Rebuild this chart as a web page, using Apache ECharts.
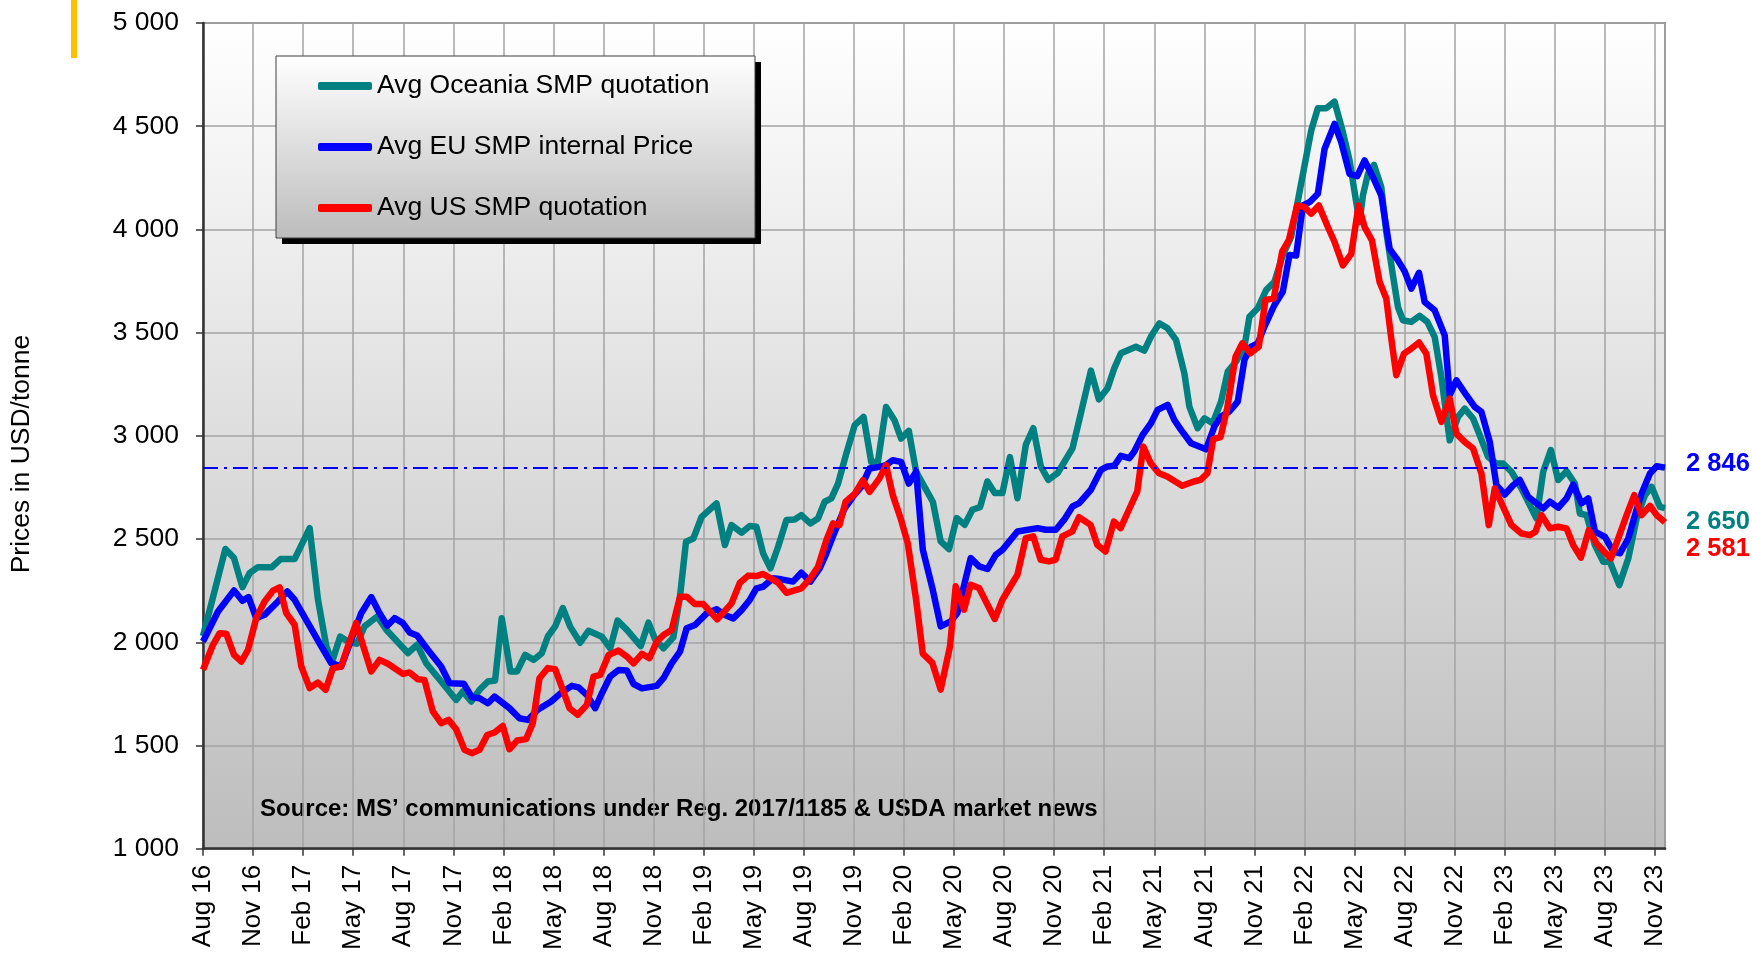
<!DOCTYPE html>
<html>
<head>
<meta charset="utf-8">
<script src="https://cdn.jsdelivr.net/npm/echarts@6/dist/echarts.min.js"></script>
<style>
  html, body { margin: 0; padding: 0; background: #fff; }
  #chart { width: 1752px; height: 953px; }
</style>
</head>
<body>
<div id="chart"></div>
<script>
// x = months since Aug 2016 (weekly quotes at the turning points)
const xLabels = ['Aug 16', 'Nov 16', 'Feb 17', 'May 17', 'Aug 17', 'Nov 17', 'Feb 18', 'May 18',
  'Aug 18', 'Nov 18', 'Feb 19', 'May 19', 'Aug 19', 'Nov 19', 'Feb 20', 'May 20', 'Aug 20',
  'Nov 20', 'Feb 21', 'May 21', 'Aug 21', 'Nov 21', 'Feb 22', 'May 22', 'Aug 22', 'Nov 22',
  'Feb 23', 'May 23', 'Aug 23', 'Nov 23']

const seriesNames = ['Avg Oceania SMP quotation', 'Avg EU SMP internal Price', 'Avg US SMP quotation']

const oceania = [
  [0, 2030], [1.34, 2452], [1.86, 2408], [2.36, 2267], [2.79, 2335], [3.29, 2364], [4.13, 2364],
  [4.65, 2403], [5.49, 2403], [6.39, 2553], [6.89, 2206], [7.39, 1980], [7.74, 1907], [8.22, 2028],
  [8.68, 2004], [9.22, 1993], [9.68, 2077], [10.44, 2125], [10.98, 2061], [12.28, 1948], [12.83, 1988],
  [13.37, 1899], [14.27, 1810], [15.17, 1721], [15.57, 1762], [16.07, 1713], [16.57, 1770], [17.07, 1810],
  [17.5, 1815], [17.9, 2117], [18.42, 1859], [18.82, 1859], [19.3, 1939], [19.82, 1915], [20.3, 1947],
  [20.66, 2028], [21.1, 2077], [21.56, 2166], [22.0, 2076], [22.6, 1998], [23.1, 2056], [23.9, 2027],
  [24.4, 1971], [24.84, 2105], [25.4, 2060], [26.23, 1982], [26.69, 2095], [27.09, 2015], [27.59, 1971],
  [28.18, 2024], [28.58, 2221], [28.94, 2487], [29.38, 2503], [29.88, 2608], [30.77, 2673], [31.27, 2471],
  [31.67, 2568], [32.27, 2531], [32.76, 2563], [33.16, 2560], [33.56, 2431], [34.0, 2358], [34.46, 2463],
  [34.96, 2592], [35.45, 2595], [35.85, 2616], [36.39, 2576], [36.85, 2600], [37.25, 2681], [37.65, 2697],
  [38.05, 2769], [38.55, 2915], [39.05, 3052], [39.58, 3092], [40.04, 2874], [40.44, 2874], [40.93, 3140],
  [41.43, 3076], [41.83, 2987], [42.29, 3024], [42.73, 2826], [43.23, 2753], [43.73, 2681], [44.2, 2489],
  [44.7, 2452], [45.16, 2602], [45.64, 2569], [46.1, 2642], [46.56, 2655], [47.0, 2779], [47.44, 2723],
  [47.9, 2723], [48.35, 2897], [48.8, 2698], [49.3, 2956], [49.75, 3037], [50.2, 2852], [50.65, 2787],
  [51.2, 2819], [52.1, 2940], [52.6, 3110], [53.2, 3316], [53.68, 3177], [54.2, 3231], [54.6, 3327],
  [55.0, 3400], [55.9, 3432], [56.4, 3413], [56.8, 3481], [57.3, 3545], [57.8, 3521], [58.3, 3465],
  [58.8, 3303], [59.1, 3142], [59.6, 3037], [60.0, 3085], [60.5, 3061], [61.0, 3166], [61.4, 3311],
  [61.9, 3360], [62.4, 3432], [62.7, 3577], [63.2, 3618], [63.7, 3706], [64.2, 3747], [64.7, 3876],
  [65.2, 3965], [65.7, 4181], [66.4, 4479], [66.8, 4587], [67.3, 4587], [67.8, 4619], [68.3, 4471],
  [68.7, 4334], [69.1, 4132], [69.3, 4035], [69.5, 4165], [69.8, 4269], [70.16, 4313], [70.6, 4205],
  [70.9, 3987], [71.3, 3777], [71.6, 3624], [71.9, 3560], [72.4, 3552], [72.9, 3581], [73.36, 3552],
  [73.8, 3479], [74.2, 3285], [74.5, 3100], [74.7, 2979], [75.2, 3092], [75.6, 3132], [76.1, 3084],
  [76.5, 3003], [77.0, 2898], [77.5, 2866], [77.9, 2866], [78.4, 2826], [79.0, 2745], [79.5, 2665],
  [79.9, 2600], [80.3, 2826], [80.76, 2931], [81.2, 2786], [81.7, 2829], [82.2, 2769], [82.5, 2624],
  [82.9, 2616], [83.4, 2471], [83.9, 2390], [84.3, 2390], [84.86, 2277], [85.4, 2406], [85.9, 2600],
  [86.4, 2713], [86.8, 2753], [87.3, 2656], [87.6, 2650]
]

const eu = [
  [0, 2004], [0.9, 2149], [1.86, 2251], [2.36, 2201], [2.73, 2219], [3.19, 2117], [3.69, 2133],
  [4.49, 2198], [5.05, 2246], [5.49, 2206], [6.29, 2093], [7.09, 1980], [7.68, 1899], [8.28, 1883],
  [8.88, 2012], [9.48, 2141], [10.08, 2219], [10.58, 2141], [11.04, 2080], [11.48, 2117], [11.98, 2093],
  [12.38, 2048], [12.83, 2033], [13.47, 1964], [14.27, 1883], [14.77, 1802], [15.63, 1799], [16.11, 1734],
  [16.57, 1729], [17.07, 1705], [17.47, 1737], [18.36, 1681], [18.96, 1632], [19.46, 1624], [20.06, 1673],
  [20.86, 1713], [21.46, 1755], [22.1, 1789], [22.5, 1782], [23.0, 1745], [23.5, 1681], [23.9, 1753],
  [24.4, 1834], [24.9, 1866], [25.4, 1863], [25.8, 1798], [26.3, 1777], [27.19, 1789], [27.59, 1826],
  [28.08, 1898], [28.58, 1955], [28.98, 2068], [29.48, 2084], [30.18, 2140], [30.77, 2160], [31.27, 2132],
  [31.77, 2116], [32.27, 2156], [32.76, 2205], [33.16, 2261], [33.56, 2269], [34.16, 2310], [34.66, 2305],
  [35.35, 2294], [35.85, 2337], [36.39, 2294], [36.95, 2358], [37.35, 2431], [37.85, 2535], [38.44, 2648],
  [38.94, 2705], [39.44, 2753], [39.94, 2842], [40.53, 2850], [40.93, 2858], [41.33, 2882], [41.83, 2874],
  [42.29, 2769], [42.73, 2826], [43.13, 2448], [43.73, 2253], [44.2, 2077], [44.8, 2101], [45.2, 2142],
  [46.0, 2408], [46.5, 2368], [47.0, 2355], [47.5, 2424], [47.9, 2448], [48.8, 2537], [50.0, 2553],
  [50.5, 2545], [51.1, 2545], [51.6, 2594], [52.1, 2658], [52.5, 2674], [53.2, 2739], [53.8, 2835],
  [54.2, 2852], [54.6, 2855], [55.0, 2903], [55.5, 2892], [55.8, 2924], [56.3, 3005], [56.8, 3061],
  [57.2, 3126], [57.8, 3150], [58.2, 3077], [58.6, 3029], [59.2, 2964], [60.1, 2935], [60.6, 3045],
  [61.0, 3094], [61.5, 3118], [62.0, 3166], [62.4, 3368], [62.8, 3432], [63.2, 3448], [63.6, 3529],
  [64.2, 3634], [64.7, 3698], [65.1, 3876], [65.5, 3874], [65.9, 4116], [66.3, 4132], [66.8, 4173],
  [67.2, 4390], [67.8, 4511], [68.2, 4423], [68.7, 4269], [69.16, 4258], [69.6, 4334], [70.1, 4253],
  [70.6, 4165], [71.1, 3906], [71.6, 3850], [72.0, 3797], [72.4, 3713], [72.86, 3790], [73.2, 3648],
  [73.8, 3608], [74.4, 3487], [74.7, 3197], [75.1, 3269], [75.7, 3197], [76.2, 3140], [76.6, 3116],
  [77.1, 2971], [77.5, 2761], [78.0, 2716], [78.5, 2761], [78.9, 2786], [79.4, 2705], [80.3, 2648],
  [80.7, 2681], [81.2, 2652], [81.7, 2697], [82.1, 2764], [82.6, 2673], [83.0, 2697], [83.4, 2536],
  [84.0, 2511], [84.5, 2439], [84.9, 2431], [85.4, 2503], [85.8, 2616], [86.2, 2721], [86.7, 2818],
  [87.1, 2853], [87.6, 2846]
]

const us = [
  [0, 1867], [0.6, 1988], [1.0, 2044], [1.4, 2041], [1.86, 1939], [2.3, 1907], [2.7, 1964], [3.19, 2117],
  [3.69, 2198], [4.19, 2250], [4.59, 2266], [4.99, 2141], [5.49, 2085], [5.89, 1883], [6.39, 1778],
  [6.89, 1805], [7.35, 1770], [7.78, 1875], [8.28, 1883], [8.68, 1980], [9.18, 2093], [9.64, 1972],
  [10.08, 1859], [10.58, 1915], [11.08, 1896], [11.98, 1847], [12.38, 1854], [12.87, 1821], [13.27, 1818],
  [13.77, 1665], [14.27, 1608], [14.71, 1624], [15.17, 1579], [15.67, 1479], [16.11, 1463], [16.57, 1479],
  [17.03, 1551], [17.47, 1563], [17.96, 1595], [18.36, 1482], [18.82, 1524], [19.36, 1531], [19.76, 1608],
  [20.16, 1826], [20.66, 1875], [21.1, 1870], [21.56, 1770], [21.96, 1681], [22.45, 1649], [23.0, 1697],
  [23.4, 1834], [23.8, 1842], [24.3, 1939], [24.9, 1960], [25.4, 1931], [25.8, 1898], [26.3, 1944],
  [26.75, 1923], [27.19, 2003], [27.59, 2035], [28.08, 2060], [28.58, 2221], [28.98, 2221], [29.48, 2185],
  [29.98, 2185], [30.81, 2111], [31.67, 2189], [32.17, 2289], [32.67, 2323], [33.16, 2321], [33.56, 2331],
  [34.46, 2289], [34.96, 2240], [35.85, 2261], [36.39, 2310], [36.85, 2366], [37.35, 2495], [37.75, 2576],
  [38.14, 2568], [38.5, 2681], [39.04, 2718], [39.54, 2785], [39.94, 2729], [40.53, 2794], [40.93, 2858],
  [41.33, 2713], [41.83, 2592], [42.23, 2479], [42.73, 2205], [43.13, 1945], [43.7, 1900], [44.2, 1771],
  [44.76, 1981], [45.1, 2271], [45.6, 2158], [46.0, 2279], [46.5, 2263], [47.44, 2113], [47.9, 2206],
  [48.8, 2327], [49.3, 2505], [49.75, 2513], [50.19, 2400], [50.69, 2392], [51.09, 2400], [51.49, 2513],
  [52.09, 2537], [52.49, 2606], [53.18, 2569], [53.58, 2473], [54.08, 2440], [54.58, 2585], [54.98, 2553],
  [55.48, 2642], [55.98, 2731], [56.34, 2948], [56.78, 2868], [57.28, 2819], [57.77, 2803], [58.67, 2758],
  [59.37, 2779], [59.77, 2787], [60.18, 2819], [60.53, 2984], [60.97, 2994], [61.37, 3134], [61.87, 3384],
  [62.27, 3448], [62.76, 3400], [63.26, 3432], [63.66, 3658], [64.16, 3666], [64.66, 3892], [65.06, 3948],
  [65.56, 4116], [66.0, 4108], [66.4, 4076], [66.86, 4116], [67.36, 4019], [67.8, 3939], [68.3, 3826],
  [68.8, 3882], [69.24, 4116], [69.6, 4011], [70.04, 3947], [70.5, 3745], [70.9, 3665], [71.2, 3471],
  [71.5, 3294], [71.96, 3398], [72.4, 3423], [72.86, 3452], [73.3, 3398], [73.7, 3197], [74.2, 3068],
  [74.7, 3181], [75.1, 3011], [75.6, 2971], [76.1, 2939], [76.6, 2818], [77.04, 2568], [77.4, 2745],
  [77.9, 2656], [78.4, 2568], [79.0, 2527], [79.5, 2519], [79.84, 2536], [80.2, 2616], [80.7, 2552],
  [81.2, 2560], [81.7, 2552], [82.1, 2471], [82.56, 2410], [83.04, 2544], [83.5, 2479], [83.96, 2439],
  [84.36, 2406], [84.8, 2503], [85.3, 2616], [85.76, 2713], [86.2, 2616], [86.7, 2661], [87.1, 2616],
  [87.6, 2581]
]

const colors = ['#008080', '#0000ff', '#ff0000']
const refLine = 2846
const font = "'Liberation Sans', Arial, sans-serif"

const spaced = (v) => String(Math.round(v)).replace(/\B(?=(\d{3})+(?!\d))/g, ' ')

const chart = echarts.init(document.getElementById('chart'))

const endLabel = (color, dy) => ({
  show: true,
  formatter: (p) => spaced(p.value[1]),
  offset: [13, dy],
  color: color,
  fontFamily: font,
  fontWeight: 'bold',
  fontSize: 25.5
})

const lineSeries = (i, data, extra) => Object.assign({
  name: seriesNames[i],
  type: 'line',
  data: data,
  showSymbol: false,
  symbol: 'none',
  color: colors[i],
  lineStyle: { color: colors[i], width: 6.5, join: 'round' }
}, extra)

const option = {
  animation: false,
  backgroundColor: '#ffffff',
  textStyle: { fontFamily: font },
  grid: {
    left: 203,
    right: 87,
    top: 23,
    bottom: 104,
    show: true,
    borderColor: '#8c8c8c',
    borderWidth: 2,
    backgroundColor: new echarts.graphic.LinearGradient(0, 0, 0, 1, [
      { offset: 0, color: '#ffffff' },
      { offset: 1, color: '#bdbdbd' }
    ])
  },
  legend: {
    orient: 'vertical',
    left: 276,
    top: 56,
    z: 10,
    padding: [15, 44, 15, 42],
    itemGap: 31,
    itemWidth: 54,
    itemHeight: 8,
    icon: 'roundRect',
    data: seriesNames,
    textStyle: { fontFamily: font, fontSize: 26.5, color: '#000', lineHeight: 30 }
  },
  xAxis: {
    type: 'value',
    min: 0,
    max: 87.6,
    interval: 3,
    axisLine: { show: true, lineStyle: { color: '#333', width: 2.5 } },
    axisTick: { show: true, length: 7, lineStyle: { color: '#333', width: 1.5 } },
    splitLine: { show: true, lineStyle: { color: '#a3a3a3', width: 1.5 } },
    axisLabel: {
      rotate: 90,
      margin: 16,
      fontSize: 26,
      color: '#000',
      fontFamily: font,
      showMaxLabel: false,
      formatter: (v) => {
        const i = v / 3
        return Math.abs(i - Math.round(i)) < 1e-6 ? (xLabels[Math.round(i)] || '') : ''
      }
    }
  },
  yAxis: {
    type: 'value',
    min: 1000,
    max: 5000,
    interval: 500,
    axisLine: { show: true, lineStyle: { color: '#333', width: 2.5 } },
    axisTick: { show: true, length: 7, lineStyle: { color: '#333', width: 1.5 } },
    splitLine: { show: true, lineStyle: { color: '#a3a3a3', width: 1.5 } },
    axisLabel: {
      margin: 24,
      fontSize: 26.5,
      color: '#000',
      fontFamily: font,
      formatter: spaced
    }
  },
  series: [
    lineSeries(0, oceania, { endLabel: endLabel(colors[0], 14) }),
    lineSeries(1, eu, {
      endLabel: endLabel(colors[1], -4),
      markLine: {
        silent: true,
        symbol: 'none',
        label: { show: false },
        lineStyle: { color: '#0000ff', width: 2, type: [15, 6, 3, 6] },
        data: [{ yAxis: refLine }]
      }
    }),
    lineSeries(2, us, { endLabel: endLabel(colors[2], 27) })
  ],
  graphic: [
    {
      type: 'rect',
      left: 71,
      top: 0,
      shape: { width: 6, height: 58 },
      style: { fill: '#ffc000' }
    },
    // legend frame with its hard drop shadow
    {
      type: 'rect',
      x: 282,
      y: 62,
      z: 5,
      shape: { width: 479, height: 182 },
      style: { fill: '#000' }
    },
    {
      type: 'rect',
      x: 276,
      y: 56,
      z: 6,
      shape: { width: 479, height: 182 },
      style: {
        fill: new echarts.graphic.LinearGradient(0, 0, 0, 1, [
          { offset: 0, color: '#ffffff' },
          { offset: 1, color: '#bcbcbc' }
        ]),
        stroke: '#404040',
        lineWidth: 1
      }
    },
    {
      type: 'text',
      x: 22,
      y: 454,
      rotation: Math.PI / 2,
      style: {
        text: 'Prices in USD/tonne',
        fontFamily: font,
        fontSize: 26.5,
        fill: '#000',
        align: 'center',
        verticalAlign: 'middle'
      }
    },
    {
      type: 'text',
      left: 260,
      top: 797,
      style: {
        text: 'Source: MS’ communications under Reg. 2017/1185 & USDA market news',
        fontFamily: font,
        fontWeight: 'bold',
        fontSize: 24,
        fill: '#000'
      }
    }
  ]
}

chart.setOption(option)
</script>
</body>
</html>
